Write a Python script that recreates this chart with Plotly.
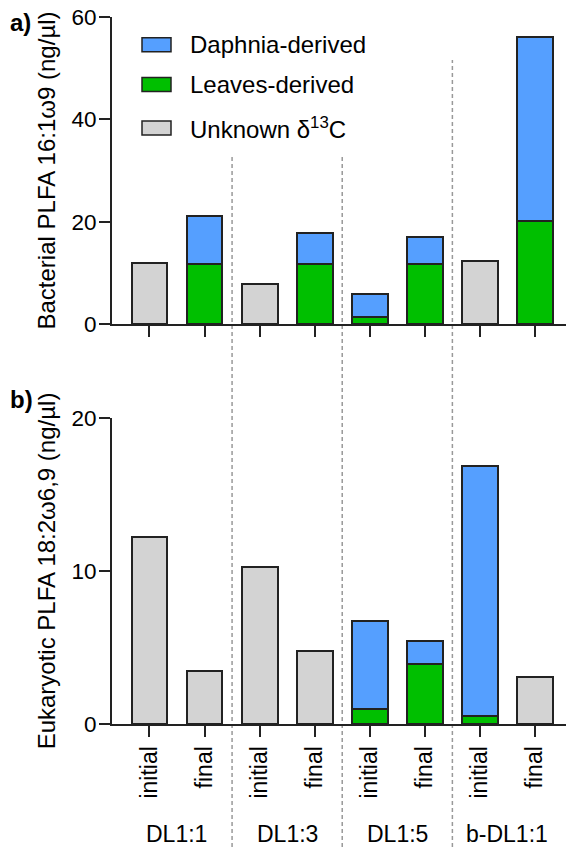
import plotly.graph_objects as go

# ---------------- data ----------------
samples = ["initial", "final", "initial", "final", "initial", "final", "initial", "final"]
treatments = ["DL1:1", "DL1:3", "DL1:5", "b-DL1:1"]

# panel a) Bacterial PLFA 16:1w9 (ng/µl)
unknown_a = [12.0, None, 7.9, None, None, None, 12.3, None]
leaves_a = [None, 11.8, None, 11.8, 1.4, 11.7, None, 20.1]
daphnia_a = [None, 9.4, None, 5.9, 4.5, 5.3, None, 36.0]

# panel b) Eukaryotic PLFA 18:2w6,9 (ng/µl)
unknown_b = [12.2, 3.45, 10.25, 4.8, None, None, None, 3.05]
leaves_b = [None, None, None, None, 1.0, 3.9, 0.5, None]
daphnia_b = [None, None, None, None, 5.75, 1.5, 16.35, None]

legend_names = ["Daphnia-derived", "Leaves-derived", "Unknown δ<sup>13</sup>C"]

# ---------------- style / layout ----------------
OFF = 8  # page body margin
W, H = 574 - OFF, 847 - OFF
ml, mr, mt, mb = 112 - OFF, 1, 17 - OFF, 123
pw, ph = W - ml - mr, H - mt - mb

def px2x(sx):
    return (sx - OFF - ml) / pw

def py2y(sy):
    return (H - mb - (sy - OFF)) / ph

dom_a = [py2y(324), 1.0]
dom_b = [0.0, py2y(418)]

FONT = "Arial, Liberation Sans, sans-serif"
C_BLUE = "#559FFF"
C_GREEN = "#00BF00"
C_GRAY = "#D3D3D3"
C_LINE = "#222222"
FS = 23

x = list(range(len(samples)))

fig = go.Figure()

def add_panel(unknown, leaves, daphnia, xa, ya):
    for vals, col in [(unknown, C_GRAY), (leaves, C_GREEN), (daphnia, C_BLUE)]:
        fig.add_trace(go.Bar(
            x=x, y=vals, xaxis=xa, yaxis=ya, width=0.65,
            marker=dict(color=col, line=dict(color=C_LINE, width=2)),
            showlegend=False,
        ))

add_panel(unknown_a, leaves_a, daphnia_a, "x", "y")
add_panel(unknown_b, leaves_b, daphnia_b, "x2", "y2")

xr = [-0.68, 7.69]
axis_common = dict(showline=True, linewidth=2, linecolor=C_LINE, ticks="outside",
                   ticklen=11, tickwidth=2, tickcolor=C_LINE, showgrid=False,
                   zeroline=False, automargin=False, ticklabeloverflow="allow")
xfont = dict(family=FONT, size=FS, color="#000")
yfont = dict(family=FONT, size=22.5, color="#000")

fig.update_layout(
    width=W, height=H, barmode="stack", plot_bgcolor="white", paper_bgcolor="white",
    margin=dict(l=ml, r=mr, t=mt, b=mb),
    font=dict(family=FONT, size=FS, color="#000"),
    xaxis=dict(domain=[0, 1], anchor="y", range=xr, tickvals=x, showticklabels=False,
               tickfont=xfont, **axis_common),
    xaxis2=dict(domain=[0, 1], anchor="y2", range=xr, tickvals=x, ticktext=samples,
                tickangle=-90, tickfont=xfont, **axis_common),
    yaxis=dict(domain=dom_a, anchor="x", range=[0, 60], tickvals=[0, 20, 40, 60],
               ticklabelstandoff=-2, tickfont=yfont,
               title=dict(text="Bacterial PLFA 16:1ω9 (ng/µl)", standoff=9,
                          font=dict(family=FONT, size=24)), **axis_common),
    yaxis2=dict(domain=dom_b, anchor="x2", range=[0, 20], tickvals=[0, 10, 20],
                ticklabelstandoff=-2, tickfont=yfont,
                title=dict(text="Eukaryotic PLFA 18:2ω6,9 (ng/µl)", standoff=9,
                           font=dict(family=FONT, size=24)), **axis_common),
)

# dashed dividers between treatments
div_x = [1.5, 3.5, 5.5]
div_top = [33.2, 33.0, 51.6]  # in panel-a data units
for dx, dt in zip(div_x, div_top):
    ytop = dom_a[0] + dt / 60 * (dom_a[1] - dom_a[0])
    fig.add_shape(type="line", xref="x", yref="paper", x0=dx, x1=dx,
                  y0=py2y(847), y1=ytop, line=dict(color="#999999", width=1.5, dash="4px,3px"),
                  layer="below")

# treatment group labels
for i, t in enumerate(treatments):
    fig.add_annotation(x=2 * i + 0.5, xref="x2", y=py2y(834), yref="paper",
                       text=t, showarrow=False, xanchor="center", yanchor="middle",
                       font=dict(family=FONT, size=FS))

# custom legend
leg_cols = [C_BLUE, C_GREEN, C_GRAY]
leg_cy = [44.7, 84.5, 128.0]
for name, col, cy in zip(legend_names, leg_cols, leg_cy):
    fig.add_shape(type="rect", xref="paper", yref="paper",
                  x0=px2x(142), x1=px2x(171), y0=py2y(cy + 7), y1=py2y(cy - 7),
                  fillcolor=col, line=dict(color=C_LINE, width=1.5))
    fig.add_annotation(x=px2x(188), xref="paper", y=py2y(cy), yref="paper",
                       text=name, showarrow=False, xanchor="left", yanchor="middle",
                       font=dict(family=FONT, size=24))

# panel labels
fig.add_annotation(x=px2x(OFF), xref="paper", y=py2y(22), yref="paper", text="<b>a)</b>",
                   showarrow=False, xanchor="left", yanchor="middle",
                   font=dict(family=FONT, size=24))
fig.add_annotation(x=px2x(OFF), xref="paper", y=py2y(400), yref="paper", text="<b>b)</b>",
                   showarrow=False, xanchor="left", yanchor="middle",
                   font=dict(family=FONT, size=24))

fig.write_html("out.html")
